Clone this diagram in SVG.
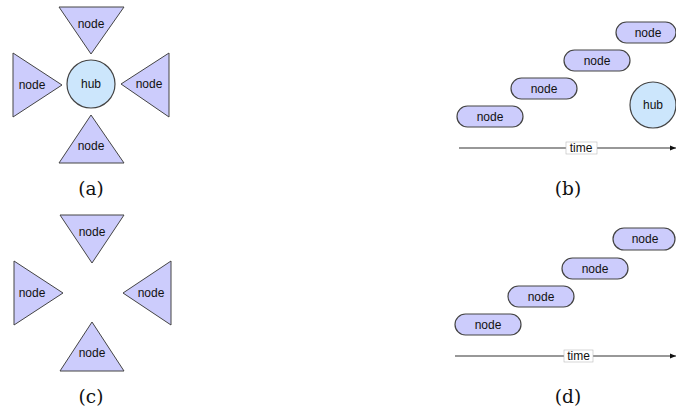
<svg xmlns="http://www.w3.org/2000/svg" width="676" height="416" viewBox="0 0 676 416">
  <defs>
    <style>
      .tri { fill: #ccccfc; stroke: #444; stroke-width: 1; stroke-linejoin: miter; }
      .pill { fill: #ccccfc; stroke: #444; stroke-width: 1.2; }
      .hub { fill: #cce6fc; stroke: #444; stroke-width: 1.2; }
      .lbl { font-family: "Liberation Sans", Arial, sans-serif; font-size: 12px; fill: #111; text-anchor: middle; dominant-baseline: central; }
      .cap { font-family: "DejaVu Serif", "Liberation Serif", serif; font-size: 18.5px; fill: #111; text-anchor: middle; }
      .axis { stroke: #333; stroke-width: 1.2; fill: none; }
      .tbox { fill: #fff; stroke: #bbb; stroke-width: 0.6; }
    </style>
    <marker id="arr" viewBox="0 0 10 10" refX="10" refY="5" markerWidth="6" markerHeight="6" orient="auto" markerUnits="userSpaceOnUse">
      <path d="M0,1 L10,5 L0,9 Z" fill="#111"/>
    </marker>
  </defs>

  <!-- (a) star around a hub -->
  <g id="a-top"><polygon class="tri" points="59,7 124,7 91,54"/><text class="lbl" x="91" y="24">node</text></g>
  <g id="a-left"><polygon class="tri" points="13,53 13,117 62,85"/><text class="lbl" x="32" y="85">node</text></g>
  <g id="a-right"><polygon class="tri" points="169,53 169,117 121,84"/><text class="lbl" x="149" y="84">node</text></g>
  <g id="a-bottom"><polygon class="tri" points="91,115 124,163 59,163"/><text class="lbl" x="91" y="146">node</text></g>
  <g id="a-hub"><circle class="hub" cx="91" cy="84" r="24"/><text class="lbl" x="91" y="84">hub</text></g>
  <text class="cap" x="91" y="195">(a)</text>

  <!-- (b) nodes over time with hub -->
  <g id="b-connectors">
    <line class="axis" x1="459" y1="148" x2="676" y2="148" marker-end="url(#arr)"/>
    <rect class="tbox" x="566" y="142" width="31" height="12"/>
    <text class="lbl" x="581" y="148">time</text>
  </g>
  <g id="b-n1"><rect class="pill" x="457" y="106" width="66" height="21" rx="10.5"/><text class="lbl" x="490" y="116.5">node</text></g>
  <g id="b-n2"><rect class="pill" x="511" y="78" width="66" height="21" rx="10.5"/><text class="lbl" x="544" y="88.5">node</text></g>
  <g id="b-n3"><rect class="pill" x="564" y="50" width="66" height="21" rx="10.5"/><text class="lbl" x="597" y="60.5">node</text></g>
  <g id="b-n4"><rect class="pill" x="616" y="22" width="60" height="21" rx="10.5"/><text class="lbl" x="648" y="32.5">node</text></g>
  <g id="b-hub"><circle class="hub" cx="653" cy="105" r="23"/><text class="lbl" x="653" y="105">hub</text></g>
  <text class="cap" x="568" y="195">(b)</text>

  <!-- (c) star without hub -->
  <g id="c-top"><polygon class="tri" points="60,215 124,215 92,263"/><text class="lbl" x="92" y="232">node</text></g>
  <g id="c-left"><polygon class="tri" points="14,261 14,325 63,293"/><text class="lbl" x="32" y="293">node</text></g>
  <g id="c-right"><polygon class="tri" points="171,261 171,325 123,293"/><text class="lbl" x="151" y="293">node</text></g>
  <g id="c-bottom"><polygon class="tri" points="92,322 124,371 60,371"/><text class="lbl" x="92" y="353">node</text></g>
  <text class="cap" x="91" y="403">(c)</text>

  <!-- (d) nodes over time -->
  <g id="d-connectors">
    <line class="axis" x1="455" y1="356" x2="676" y2="356" marker-end="url(#arr)"/>
    <rect class="tbox" x="564" y="350" width="29" height="12"/>
    <text class="lbl" x="578.5" y="356">time</text>
  </g>
  <g id="d-n1"><rect class="pill" x="455" y="314" width="66" height="21" rx="10.5"/><text class="lbl" x="488" y="324.5">node</text></g>
  <g id="d-n2"><rect class="pill" x="508" y="286" width="66" height="21" rx="10.5"/><text class="lbl" x="541" y="296.5">node</text></g>
  <g id="d-n3"><rect class="pill" x="562" y="258" width="66" height="21" rx="10.5"/><text class="lbl" x="595" y="268.5">node</text></g>
  <g id="d-n4"><rect class="pill" x="613" y="228" width="62" height="22" rx="11"/><text class="lbl" x="645" y="239">node</text></g>
  <text class="cap" x="568" y="403">(d)</text>
</svg>
